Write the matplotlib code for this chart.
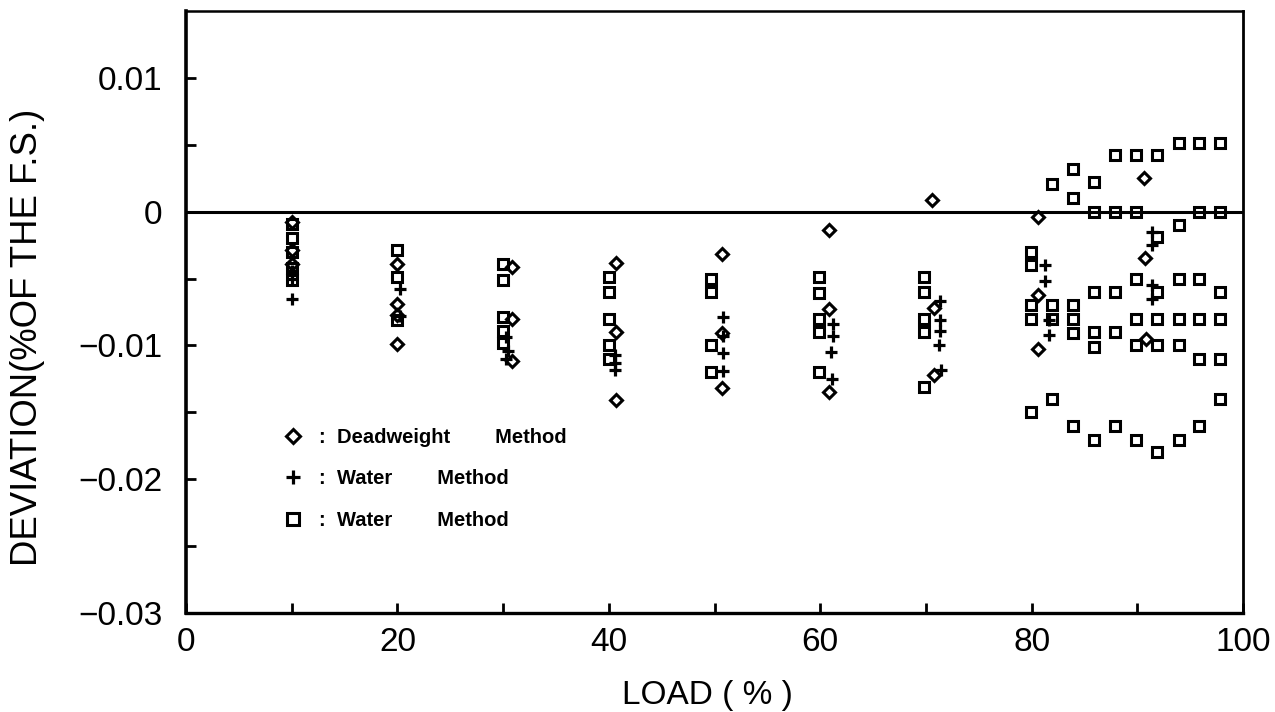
import matplotlib
matplotlib.use("Agg")
import matplotlib.pyplot as plt
import numpy as np
from matplotlib.ticker import FixedLocator

plt.rcParams['font.family'] = ['Liberation Sans', 'DejaVu Sans']

# ---- data ----
dead_x = [10, 10, 10,
          20, 20, 20, 20,
          30.8, 30.8, 30.8,
          40.7, 40.7, 40.7,
          50.7, 50.7, 50.7,
          60.8, 60.8, 60.8,
          70.6, 70.8, 70.8,
          80.6, 80.6, 80.6,
          90.6, 90.7, 90.8]
dead_y = [-0.0008, -0.0029, -0.0039,
          -0.0039, -0.0069, -0.0077, -0.0099,
          -0.0041, -0.0080, -0.0112,
          -0.0038, -0.0090, -0.0141,
          -0.0032, -0.0091, -0.0132,
          -0.0014, -0.0073, -0.0135,
          0.0009, -0.0072, -0.0122,
          -0.0004, -0.0062, -0.0103,
          0.0025, -0.0035, -0.0095]

water_x = [10, 10, 10,
           20.2, 20.2,
           30.3, 30.5, 30.3,
           40.6, 40.6, 40.6,
           50.8, 50.8, 50.8, 50.8,
           61.2, 61.2, 61.0, 61.1,
           71.3, 71.3, 71.3, 71.2, 71.4,
           81.3, 81.3, 81.6, 81.6,
           91.4, 91.4, 91.4, 91.4]
water_y = [-0.0044, -0.0050, -0.0065,
           -0.0058, -0.0078,
           -0.0094, -0.0104, -0.0110,
           -0.0107, -0.0113, -0.0118,
           -0.0079, -0.0093, -0.0106, -0.0119,
           -0.0084, -0.0093, -0.0105, -0.0125,
           -0.0067, -0.0081, -0.0089, -0.0100, -0.0118,
           -0.0040, -0.0052, -0.0081, -0.0092,
           -0.0015, -0.0025, -0.0055, -0.0065]

water2_x = [10, 10, 10, 10, 10,
            20, 20, 20,
            30, 30, 30, 30, 30,
            40, 40, 40, 40, 40,
            49.7, 49.7, 49.7, 49.7,
            59.9, 59.9, 59.9, 59.9, 59.9,
            69.8, 69.8, 69.8, 69.8, 69.8,
            79.9, 79.9, 79.9, 79.9, 79.9,
            81.9, 81.9, 81.9, 81.9,
            83.9, 83.9, 83.9, 83.9, 83.9, 83.9,
            85.9, 85.9, 85.9, 85.9, 85.9, 85.9,
            87.9, 87.9, 87.9, 87.9, 87.9,
            89.9, 89.9, 89.9, 89.9, 89.9, 89.9,
            91.9, 91.9, 91.9, 91.9, 91.9, 91.9,
            93.9, 93.9, 93.9, 93.9, 93.9, 93.9,
            95.8, 95.8, 95.8, 95.8, 95.8, 95.8,
            97.8, 97.8, 97.8, 97.8, 97.8, 97.8]
water2_y = [-0.0009, -0.0020, -0.0030, -0.0042, -0.0051,
            -0.0029, -0.0049, -0.0081,
            -0.0039, -0.0051, -0.0079, -0.0089, -0.0098,
            -0.0049, -0.0060, -0.0080, -0.0100, -0.0110,
            -0.0050, -0.0060, -0.0100, -0.0120,
            -0.0049, -0.0061, -0.0080, -0.0090, -0.0120,
            -0.0049, -0.0060, -0.0080, -0.0090, -0.0131,
            -0.0030, -0.0040, -0.0070, -0.0080, -0.0150,
            0.0021, -0.0070, -0.0080, -0.0140,
            0.0032, 0.0010, -0.0070, -0.0080, -0.0091, -0.0160,
            0.0022, 0.0000, -0.0060, -0.0090, -0.0101, -0.0171,
            0.0042, 0.0000, -0.0060, -0.0090, -0.0160,
            0.0042, 0.0000, -0.0050, -0.0080, -0.0100, -0.0171,
            0.0042, -0.0019, -0.0060, -0.0080, -0.0100, -0.0180,
            0.0051, -0.0010, -0.0050, -0.0080, -0.0100, -0.0171,
            0.0051, 0.0000, -0.0050, -0.0080, -0.0110, -0.0160,
            0.0051, 0.0000, -0.0060, -0.0080, -0.0110, -0.0140]

labels = [":  Deadweight        Method",
          ":  Water        Method",
          ":  Water        Method"]
x_ticks = [0, 20, 40, 60, 80, 100]
y_ticks = [-0.03, -0.02, -0.01, 0, 0.01]
y_tick_labels = ["\u22120.03", "\u22120.02", "\u22120.01", "0", "0.01"]

# ---- figure ----
fig = plt.figure(figsize=(12.75, 7.12), dpi=100)
ax = fig.add_axes([186/1275, 1 - 613/712, (1243-186)/1275, (613-11)/712])

ax.set_xlim(0, 100)
ax.set_ylim(-0.03, 0.015)

ax.axhline(0, color='black', lw=2.2, zorder=1)

h1, = ax.plot(dead_x, dead_y, linestyle='none', marker='D', ms=6.6,
              mfc='none', mec='black', mew=2.2, zorder=3)
h2, = ax.plot(water_x, water_y, linestyle='none', marker='+', ms=9,
              mec='black', mew=2.3, zorder=3)
h3, = ax.plot(water2_x, water2_y, linestyle='none', marker='s', ms=7.2,
              mfc='none', mec='black', mew=2.2, zorder=3)

ax.xaxis.set_major_locator(FixedLocator(x_ticks))
ax.xaxis.set_minor_locator(FixedLocator([10, 30, 50, 70, 90]))
ax.yaxis.set_major_locator(FixedLocator(y_ticks))
ax.yaxis.set_minor_locator(FixedLocator([-0.025, -0.015, -0.005, 0.005]))
ax.set_yticklabels(y_tick_labels)
ax.set_xticklabels([str(v) for v in x_ticks])

ax.tick_params(axis='both', which='both', direction='in', width=2, color='black')
ax.tick_params(axis='both', which='major', length=7, labelsize=24)
ax.tick_params(axis='both', which='minor', length=7)
ax.tick_params(axis='y', which='major', pad=17)
ax.tick_params(axis='x', which='major', pad=10)

for side, lw in [('left', 2.6), ('bottom', 2.4), ('top', 1.8), ('right', 2.0)]:
    ax.spines[side].set_linewidth(lw)
    ax.spines[side].set_color('black')

ax.set_xlabel("LOAD ( % )", fontsize=24)
ax.xaxis.set_label_coords(0.493, -0.112)
ax.set_ylabel("DEVIATION(%OF THE F.S.)", fontsize=26.3)
ax.yaxis.set_label_coords(-0.1334, 0.4576)

leg = ax.legend([h1, h2, h3], labels, loc='center left',
                bbox_to_anchor=(0.0918, 0.2226), frameon=False,
                borderpad=0, borderaxespad=0, handlelength=1.0,
                handletextpad=0.8, labelspacing=1.1, markerscale=1.15,
                prop={'size': 14.5, 'weight': 'bold'})

fig.savefig("out.png", dpi=100)
